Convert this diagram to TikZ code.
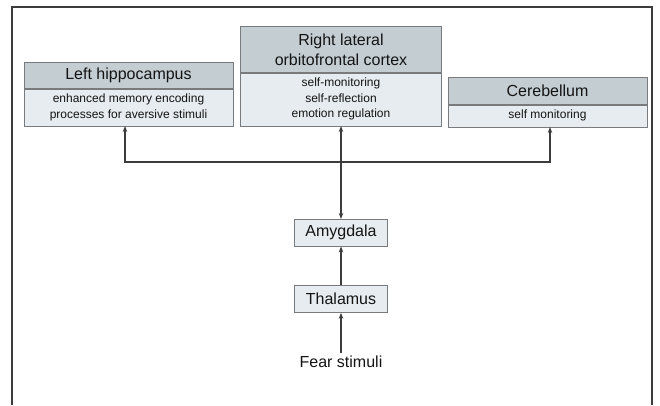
\documentclass[tikz,border=0pt]{standalone}
\usepackage{fontspec}
\setmainfont{Liberation Sans}
\usetikzlibrary{arrows.meta, positioning, calc}
\usepackage{xcolor}
\definecolor{headgray}{RGB}{195,205,210}
\definecolor{bodygray}{RGB}{230,236,239}
\definecolor{edgegray}{RGB}{120,122,124}
\definecolor{linegray}{RGB}{60,60,60}
\definecolor{textgray}{RGB}{20,20,20}

\begin{document}
\begin{tikzpicture}[
        x=1pt, y=1pt,
        head/.style={rectangle, draw=edgegray, fill=headgray, align=center, font=\fontsize{16}{20}\selectfont, text=textgray, inner sep=2pt},
        body/.style={rectangle, draw=edgegray, fill=bodygray, align=center, font=\fontsize{12}{15.5}\selectfont, text=textgray, inner sep=2pt},
        relay/.style={rectangle, draw=edgegray, fill=bodygray, minimum width=93pt, minimum height=27pt, font=\fontsize{16}{20}\selectfont, text=textgray, inner sep=2pt},
        arrow/.style={-{Stealth[length=6pt, width=4.5pt]}, line width=1.2pt, draw=linegray}
    ]
    \useasboundingbox (0,0) rectangle (660,-405);

    % Frame (open at the bottom)
    \draw[line width=1.3pt, draw=linegray] (12,-405) -- (12,-7) -- (652,-7) -- (652,-405);

    % Top regions: bodies first, headers on top of them
    \node[body, minimum width=209pt, minimum height=37pt, anchor=south] (lhippbody) at (128.5,-126)
        {enhanced memory encoding\\processes for aversive stimuli};
    \node[head, minimum width=209pt, minimum height=26pt, above=0pt of lhippbody] (lhipp) {Left hippocampus};

    \node[body, minimum width=201pt, minimum height=53pt, anchor=south] (ofcbody) at (341,-126)
        {self-monitoring\\self-reflection\\emotion regulation};
    \node[head, minimum width=201pt, minimum height=46pt, above=0pt of ofcbody] (ofc) {Right lateral\\orbitofrontal cortex};

    \node[body, minimum width=199pt, minimum height=22pt, anchor=south] (cerebbody) at (547.5,-127) {self monitoring};
    \node[head, minimum width=199pt, minimum height=27pt, above=0pt of cerebbody] (cereb) {Cerebellum};

    % Relay chain
    \node[relay, below=93pt of ofcbody] (amyg) {Amygdala};
    \node[relay, below=39pt of amyg] (thal) {Thalamus};
    \node[font=\fontsize{16}{20}\selectfont, text=textgray, below=40pt of thal] (fear) {Fear stimuli};

    % Arrows
    \coordinate (hub) at ($(ofcbody.south)+(0,-36)$);
    \draw[arrow] (hub) -| ([xshift=-3.5pt]lhippbody.south);
    \draw[arrow] (hub) -| ([xshift=2.5pt]cerebbody.south);
    \draw[arrow, {Stealth[length=6pt, width=4.5pt]}-{Stealth[length=6pt, width=4.5pt]}] (ofcbody) -- (amyg);
    \draw[arrow] (thal) -- (amyg);
    \draw[arrow] (fear) -- (thal);

\end{tikzpicture}
\end{document}
